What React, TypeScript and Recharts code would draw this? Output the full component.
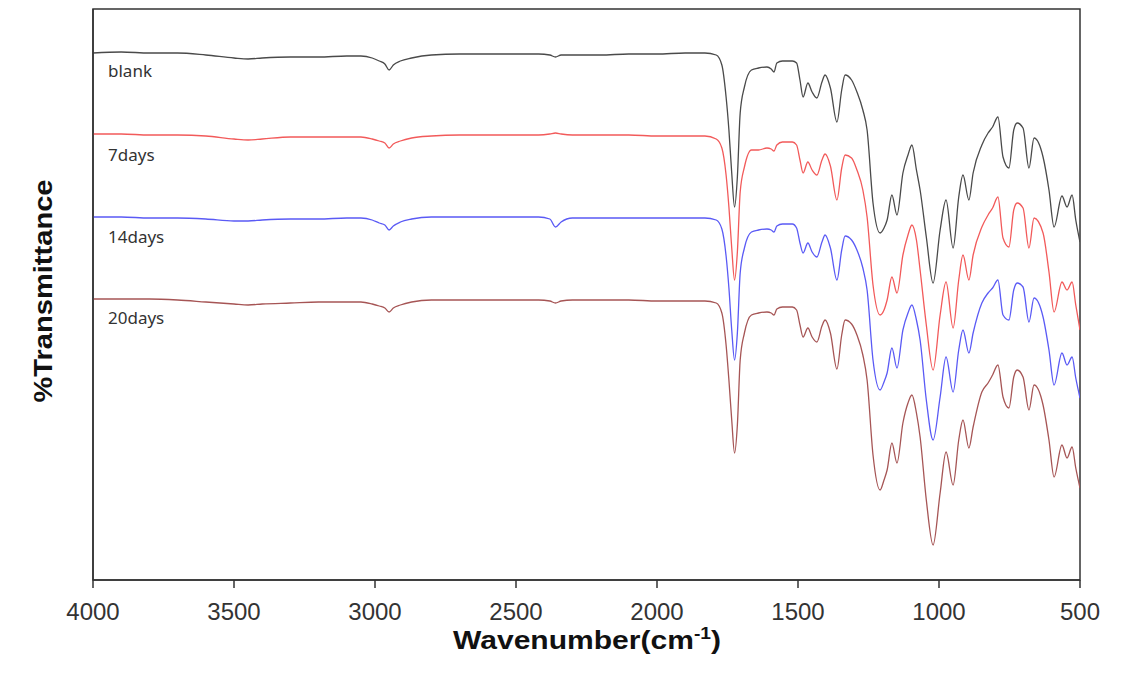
import { LineChart, Line, XAxis, YAxis, ReferenceArea, Customized } from "recharts";

// wavenumber grid (cm-1), shared by all four spectra
const WAVENUMBERS = [
  4000, 3900, 3800, 3700, 3600, 3500, 3450, 3400, 3300, 3200, 3100, 3050, 3010, 2985, 2965, 2950, 2935, 2910, 2870, 2800,
  2700, 2600, 2500, 2420, 2380, 2360, 2340, 2300, 2200, 2100, 2000, 1900, 1830,
  1790, 1770, 1755, 1745, 1735, 1725, 1715, 1705, 1690, 1665,
  1640, 1610, 1595, 1585, 1575, 1555, 1520, 1505, 1493, 1482,
  1465, 1450, 1433, 1415, 1404, 1385, 1362, 1345, 1333, 1310,
  1291, 1270, 1255, 1234, 1209, 1195, 1184, 1167, 1149, 1128,
  1110, 1096, 1080, 1067, 1045, 1021, 996, 975, 950, 930,
  915, 894, 879, 848, 826, 810, 791, 773, 752, 735,
  723, 702, 681, 663, 631, 610, 592, 564, 546, 528,
  515, 500,
];

// offset transmittance (arbitrary units, stacked)
const BLANK = [
  527, 528, 527, 527, 525, 522, 521, 522, 523, 523, 524, 524, 522, 519, 516, 510, 515, 519, 522, 525,
  526, 526, 526, 526, 525, 523, 525, 525, 525, 526, 526, 527, 527,
  525, 515, 483, 450, 407, 373, 403, 467, 493, 510,
  512, 513, 511, 508, 517, 519, 519, 517, 500, 483,
  497, 488, 482, 498, 505, 492, 458, 490, 505, 500,
  488, 470, 450, 377, 347, 352, 360, 385, 365, 407,
  425, 435, 410, 390, 343, 297, 350, 380, 332, 383,
  405, 380, 407, 435, 447, 453, 463, 423, 412, 450,
  457, 452, 412, 442, 423, 390, 353, 384, 373, 385,
  360, 338,
];

const DAYS_7 = [
  446, 446, 445, 445, 444, 441, 440, 441, 443, 443, 443, 443, 441, 439, 437, 432, 436, 439, 442, 444,
  445, 445, 445, 445, 446, 447, 446, 445, 445, 445, 444, 444, 444,
  441, 432, 405, 373, 332, 300, 328, 388, 413, 430,
  430, 432, 431, 429, 435, 438, 438, 435, 420, 407,
  418, 410, 405, 420, 426, 414, 380, 412, 425, 422,
  410, 390, 363, 295, 265, 270, 280, 303, 287, 325,
  345, 355, 340, 310, 255, 210, 265, 298, 252, 300,
  325, 300, 325, 353, 365, 372, 383, 342, 333, 370,
  377, 372, 332, 362, 347, 308, 268, 298, 290, 298,
  275, 250,
];

const DAYS_14 = [
  363, 363, 362, 362, 361, 359, 359, 360, 361, 361, 362, 362, 360, 357, 355, 350, 354, 358, 361, 363,
  363, 363, 363, 363, 361, 353, 358, 362, 362, 362, 362, 362, 362,
  360, 351, 324, 292, 250, 220, 247, 307, 332, 348,
  350, 351, 350, 348, 354, 356, 356, 352, 337, 327,
  337, 328, 323, 338, 345, 332, 300, 330, 344, 340,
  330, 312, 290, 220, 190, 198, 207, 232, 212, 250,
  267, 275, 260, 240, 180, 140, 183, 223, 188, 230,
  250, 227, 247, 277, 287, 292, 300, 265, 260, 290,
  297, 293, 258, 282, 263, 230, 195, 227, 215, 223,
  202, 182,
];

const DAYS_20 = [
  281, 281, 281, 280, 278, 276, 275, 276, 277, 278, 278, 278, 276, 274, 272, 268, 272, 275, 278, 280,
  280, 280, 280, 280, 279, 277, 279, 280, 280, 280, 279, 279, 279,
  277, 267, 235, 200, 160, 127, 155, 220, 247, 265,
  267, 268, 267, 265, 271, 273, 273, 270, 255, 243,
  252, 243, 238, 254, 260, 247, 211, 245, 260, 256,
  245, 225, 200, 125, 90, 100, 110, 137, 117, 157,
  177, 185, 167, 143, 80, 35, 87, 128, 95, 140,
  160, 132, 153, 188, 197, 205, 215, 183, 172, 203,
  210, 203, 170, 195, 175, 140, 103, 135, 122, 133,
  112, 92,
];

const X_TICKS = [4000, 3500, 3000, 2500, 2000, 1500, 1000, 500];

const SERIES = [
  { key: "blank", name: "blank", values: BLANK, color: "#4a4a4a", labelY: 77 },
  { key: "d7", name: "7days", values: DAYS_7, color: "#f25a5a", labelY: 161 },
  { key: "d14", name: "14days", values: DAYS_14, color: "#5a5af5", labelY: 243 },
  { key: "d20", name: "20days", values: DAYS_20, color: "#a65555", labelY: 324 },
];

const rows = WAVENUMBERS.map((wn, i) => {
  const row: Record<string, number> = { wn };
  SERIES.forEach((s) => {
    row[s.key] = s.values[i];
  });
  return row;
});

const AXIS_COLOR = "#333";
const TITLE_FONT = "'Liberation Sans', Arial, sans-serif";

const SeriesLabels = () => (
  <g>
    {SERIES.map((s) => (
      <text
        key={s.key}
        x={108}
        y={s.labelY}
        fontSize={17}
        fontFamily="'Noto Sans', sans-serif"
        fill="#333"
      >
        {s.name}
      </text>
    ))}
  </g>
);

const XTitle = () => (
  <text
    x={587}
    y={649}
    textAnchor="middle"
    fontFamily={TITLE_FONT}
    fontWeight="bold"
    fontSize={25}
    textLength={268}
    lengthAdjust="spacingAndGlyphs"
    fill="#111"
  >
    Wavenumber(cm
    <tspan dy={-10} fontSize={16}>-1</tspan>
    <tspan dy={10}>)</tspan>
  </text>
);

const YTitle = () => (
  <text
    x={52}
    y={291}
    transform="rotate(-90, 52, 291)"
    textAnchor="middle"
    fontFamily={TITLE_FONT}
    fontWeight="bold"
    fontSize={25}
    textLength={223}
    lengthAdjust="spacingAndGlyphs"
    fill="#111"
  >
    %Transmittance
  </text>
);

export default function App() {
  return (
    <div style={{ position: "absolute", left: 0, top: 0, background: "#fff" }}>
      <LineChart width={1124} height={674} data={rows} margin={{ top: 9, right: 44, bottom: 0, left: 0 }}>
        <XAxis
          dataKey="wn"
          type="number"
          domain={[500, 4000]}
          reversed
          ticks={X_TICKS}
          height={94}
          tickSize={8}
          tickMargin={15}
          tick={{ fontSize: 24, fill: "#333", fontFamily: TITLE_FONT }}
          axisLine={{ stroke: AXIS_COLOR, strokeWidth: 1.5 }}
          tickLine={{ stroke: AXIS_COLOR, strokeWidth: 1.5 }}
          allowDataOverflow
        />
        <YAxis
          width={93}
          domain={[0, 571]}
          tick={false}
          tickLine={false}
          axisLine={{ stroke: AXIS_COLOR, strokeWidth: 1.5 }}
          allowDataOverflow
        />
        <ReferenceArea
          x1={4000}
          x2={500}
          y1={0}
          y2={571}
          fill="none"
          stroke={AXIS_COLOR}
          strokeWidth={1.5}
          strokeOpacity={1}
        />
        {SERIES.map((s) => (
          <Line
            key={s.key}
            dataKey={s.key}
            type="monotone"
            stroke={s.color}
            strokeWidth={1.3}
            dot={false}
            activeDot={false}
            isAnimationActive={false}
          />
        ))}
        <Customized component={<SeriesLabels />} />
        <Customized component={<XTitle />} />
        <Customized component={<YTitle />} />
      </LineChart>
    </div>
  );
}
